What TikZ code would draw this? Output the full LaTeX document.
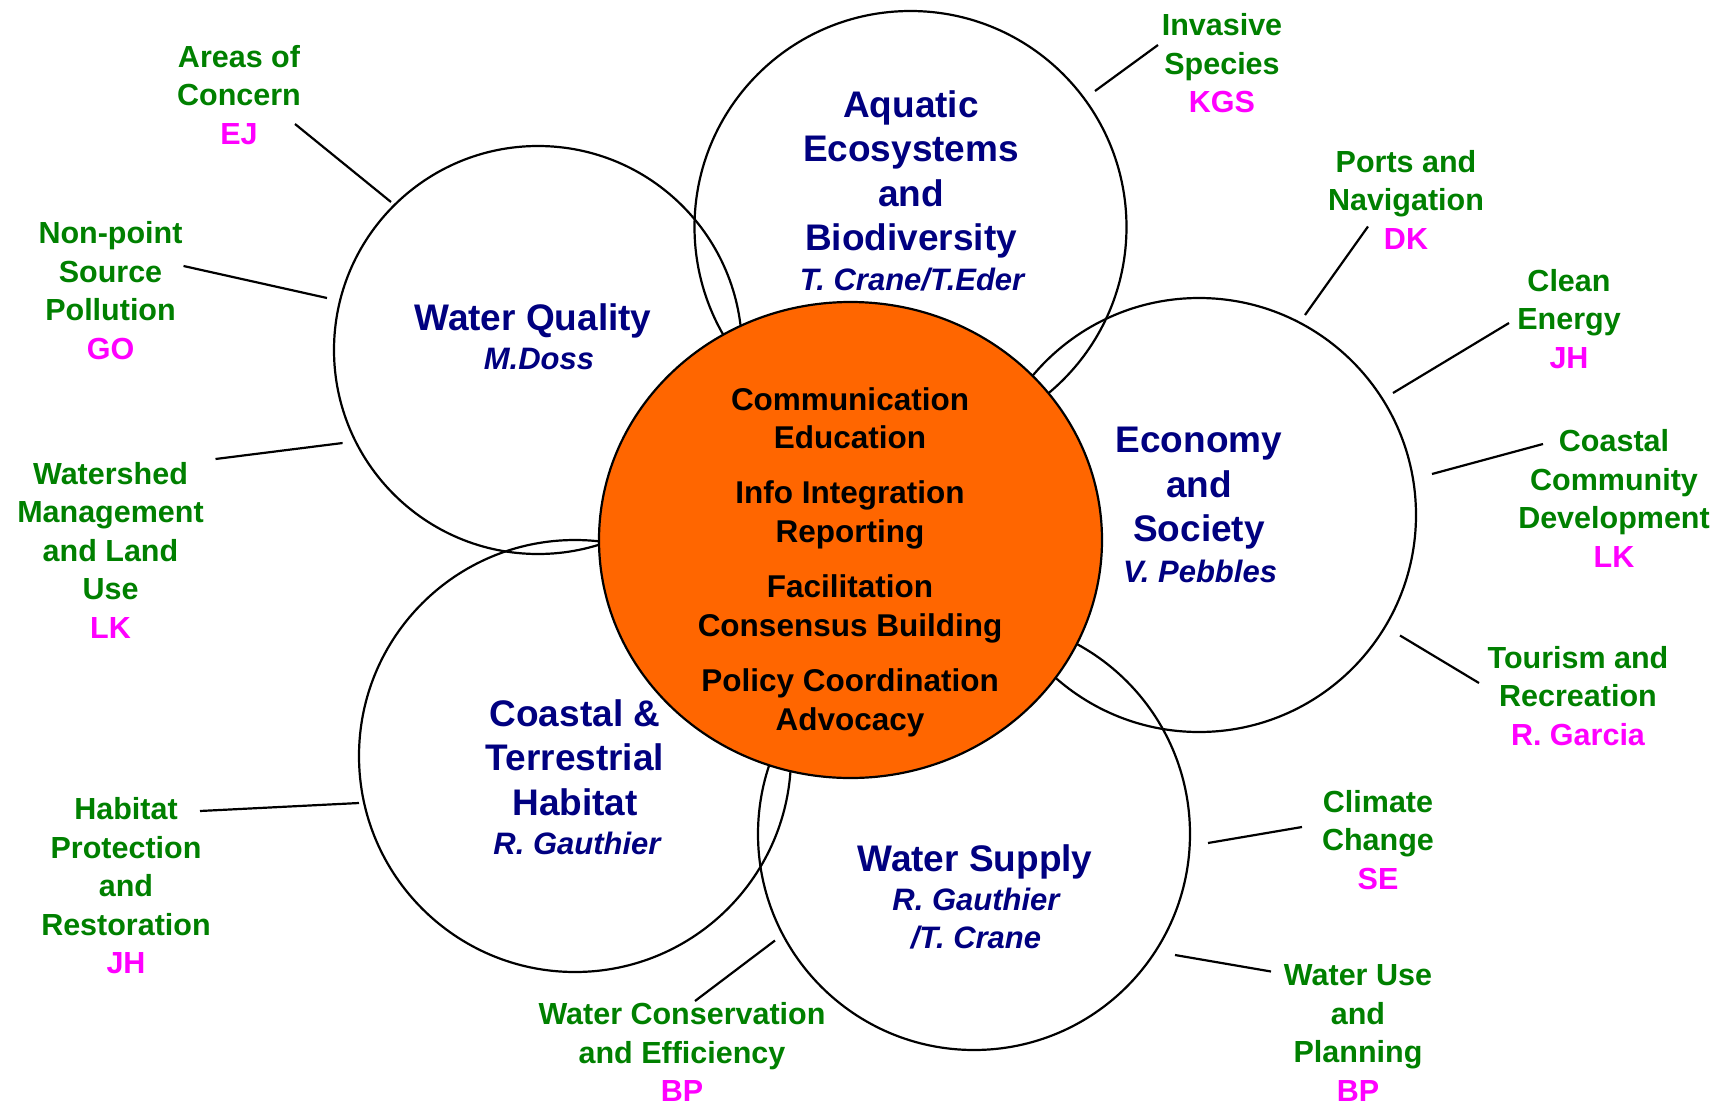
\documentclass[tikz,border=0pt]{standalone}
\usepackage{fontspec}
\setmainfont{Liberation Sans}
\usetikzlibrary{shapes.geometric}
\definecolor{lblgreen}{HTML}{008000}
\definecolor{initmag}{HTML}{FF00FF}
\definecolor{ttlnavy}{HTML}{000080}
\definecolor{hubor}{HTML}{FF6600}
\begin{document}
\begin{tikzpicture}[x=1pt,y=-1pt,
  ring/.style={circle,draw=black,line width=2.2pt,inner sep=0pt},
  lbl/.style={align=center,text=lblgreen,font=\fontsize{30.5}{38.5}\selectfont\bfseries,inner sep=0pt},
  ttl/.style={align=center,text=ttlnavy,font=\fontsize{37}{44.6}\selectfont\bfseries,inner sep=0pt},
  sub/.style={align=center,text=ttlnavy,font=\fontsize{31}{38}\selectfont\bfseries\itshape,inner sep=0pt},
  hubtxt/.style={align=center,text=black,font=\fontsize{31.5}{38.7}\selectfont\bfseries,inner sep=0pt},
  conn/.style={line width=2.2pt,draw=black}]
\useasboundingbox (0,0) rectangle (1733,1106);
\fill[white] (0,0) rectangle (1733,1106);
\newcommand{\ini}[1]{\textcolor{initmag}{#1}}

% outer circles
\node[ring,minimum size=408pt] (wq) at (538,350) {};
\node[ring,minimum size=432pt] (aq) at (910.5,227) {};
\node[ring,minimum size=434pt] (ec) at (1199,515) {};
\node[ring,minimum size=432pt] (ws) at (974,834) {};
\node[ring,minimum size=432pt] (ct) at (575,756) {};
% hub
\node[ellipse,draw=black,line width=2.2pt,inner sep=0pt,fill=hubor,minimum width=503pt,minimum height=476pt] (hub) at (850.5,540) {};
\node[hubtxt] (hubt) at (850,562) {Communication\\Education\\[16.3pt]Info Integration\\Reporting\\[16.3pt]Facilitation\\Consensus Building\\[16.3pt]Policy Coordination\\Advocacy};

% circle titles
\node[ttl] (wqt) at (533,320.5) {Water Quality};
\node[sub] (wqs) at (539,359) {M.Doss};
\node[ttl] (aqt) at (911,174.5) {Aquatic\\Ecosystems\\and\\Biodiversity};
\node[sub] (aqs) at (912,280) {T. Crane/T.Eder};
\node[ttl] (ect) at (1199,488.5) {Economy\\and\\Society};
\node[sub] (ecs) at (1200,571) {V. Pebbles};
\node[ttl] (ctt) at (575,757.5) {Coastal \&\\Terrestrial\\Habitat};
\node[sub] (cts) at (577,843) {R. Gauthier};
\node[ttl] (wst) at (975,861.5) {Water Supply};
\node[sub] (wss) at (976,919) {R. Gauthier\\/T. Crane};

% labels
\node[lbl] (aoc) at (239,95) {Areas of\\Concern\\\ini{EJ}};
\node[lbl] (nps) at (110.5,290.5) {Non-point\\Source\\Pollution\\\ini{GO}};
\node[lbl] (wsm) at (110.5,550) {Watershed\\Management\\and Land\\Use\\\ini{LK}};
\node[lbl] (hab) at (126,886) {Habitat\\Protection\\and\\Restoration\\\ini{JH}};
\node[lbl] (wce) at (682,1052) {Water Conservation\\and Efficiency\\\ini{BP}};
\node[lbl] (wup) at (1358,1033) {Water Use\\and\\Planning\\\ini{BP}};
\node[lbl] (clc) at (1378,840) {Climate\\Change\\\ini{SE}};
\node[lbl] (tor) at (1578,696) {Tourism and\\Recreation\\\ini{R. Garcia}};
\node[lbl] (ccd) at (1614,498.5) {Coastal\\Community\\Development\\\ini{LK}};
\node[lbl] (cen) at (1569,319) {Clean\\Energy\\\ini{JH}};
\node[lbl] (pna) at (1406,199.5) {Ports and\\Navigation\\\ini{DK}};
\node[lbl] (ivs) at (1222,63.5) {Invasive\\Species\\\ini{KGS}};

% connector ends
\coordinate (aoc-a) at (295,124);   \coordinate (aoc-b) at (391,202);
\coordinate (nps-a) at (183.5,266); \coordinate (nps-b) at (327,298);
\coordinate (wsm-a) at (215.5,459); \coordinate (wsm-b) at (342.6,443);
\coordinate (hab-a) at (200,811);   \coordinate (hab-b) at (359,803);
\coordinate (wce-a) at (695,1001);  \coordinate (wce-b) at (775,940.5);
\coordinate (wup-a) at (1271,971.5);\coordinate (wup-b) at (1175,955);
\coordinate (clc-a) at (1302,827);  \coordinate (clc-b) at (1208,843);
\coordinate (tor-a) at (1479,683);  \coordinate (tor-b) at (1400,635.5);
\coordinate (ccd-a) at (1543,444);  \coordinate (ccd-b) at (1432,474);
\coordinate (cen-a) at (1509,323);  \coordinate (cen-b) at (1393,393);
\coordinate (pna-a) at (1368,226.5);\coordinate (pna-b) at (1305,315);
\coordinate (ivs-a) at (1158,45);   \coordinate (ivs-b) at (1095,91);

\foreach \k in {aoc,nps,wsm,hab,wce,wup,clc,tor,ccd,cen,pna,ivs}
  \draw[conn] (\k-a) -- (\k-b);
\end{tikzpicture}
\end{document}
